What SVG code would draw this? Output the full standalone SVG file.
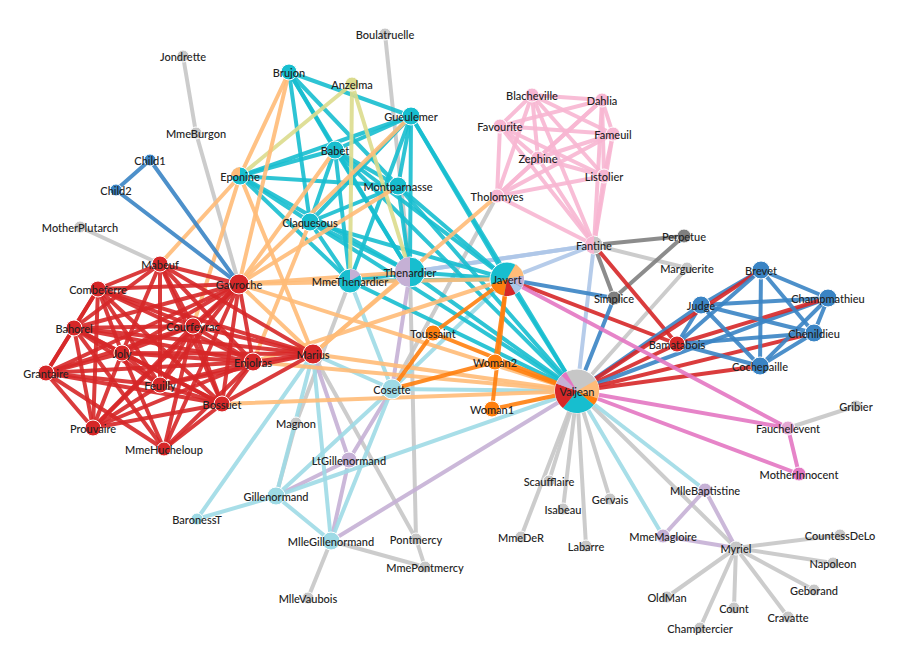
<svg xmlns="http://www.w3.org/2000/svg" width="900" height="657" viewBox="0 0 900 657">
<style>
line{stroke-width:4;stroke-opacity:0.9;stroke-linecap:round}
.g{stroke:#c7c7c7}.lv{stroke:#c5b0d5}.lb{stroke:#9edae5}.fb{stroke:#aec7e8}.p{stroke:#f7b6d2}.t{stroke:#17becf}.r{stroke:#d62728}.b{stroke:#3a84c4}.dg{stroke:#7f7f7f}.o{stroke:#ff7f0e}.m{stroke:#e377c2}.pe{stroke:#ffbb78}.y{stroke:#dbdb8d}
circle{stroke:#fff;stroke-width:1}
.G{fill:#c7c7c7}.LV{fill:#c5b0d5}.LB{fill:#9edae5}.FB{fill:#c2d2ea}.P{fill:#f7b6d2}.T{fill:#17becf}.R{fill:#d62728}.B{fill:#3a84c4}.DG{fill:#7f7f7f}.O{fill:#ff7f0e}.M{fill:#e377c2}.PE{fill:#ffbb78}.Y{fill:#dbdb8d}.AB{fill:#aec7e8}
text{font-family:Lato,"Open Sans","DejaVu Sans",sans-serif;font-size:11px;font-weight:500;fill:#222;text-anchor:middle;dominant-baseline:central}
</style>
<rect width="900" height="657" fill="#fff"/>
<g id="links">
<line class="g" x1="736" y1="548" x2="833" y2="563"/><line class="g" x1="736" y1="548" x2="840" y2="535"/><line class="g" x1="736" y1="548" x2="814" y2="590"/><line class="g" x1="736" y1="548" x2="700" y2="628"/><line class="g" x1="736" y1="548" x2="788" y2="617"/><line class="g" x1="736" y1="548" x2="734" y2="608"/><line class="g" x1="736" y1="548" x2="667" y2="597"/>
<line class="g" x1="577" y1="391" x2="586" y2="546"/><line class="g" x1="577" y1="391" x2="736" y2="548"/><line class="g" x1="577" y1="391" x2="687" y2="268"/><line class="g" x1="577" y1="391" x2="521" y2="537"/><line class="g" x1="577" y1="391" x2="563" y2="509"/><line class="g" x1="577" y1="391" x2="610" y2="499"/><line class="g" x1="577" y1="391" x2="549" y2="481"/>
<line class="g" x1="594" y1="245" x2="687" y2="268"/><line class="g" x1="410" y1="272" x2="416" y2="539"/><line class="g" x1="410" y1="272" x2="385" y2="34"/><line class="g" x1="788" y1="428" x2="856" y2="406"/><line class="g" x1="196" y1="133" x2="183" y2="56"/><line class="g" x1="239" y1="284" x2="196" y2="133"/><line class="g" x1="296" y1="423" x2="276" y2="496"/><line class="g" x1="296" y1="423" x2="350" y2="281"/><line class="g" x1="425" y1="567" x2="331" y2="541"/><line class="g" x1="425" y1="567" x2="416" y2="539"/><line class="g" x1="308" y1="598" x2="331" y2="541"/><line class="g" x1="313" y1="354" x2="416" y2="539"/><line class="g" x1="80" y1="227" x2="160" y2="264"/><line class="g" x1="497" y1="196" x2="392" y2="389"/>
<line class="dg" x1="684" y1="236" x2="594" y2="245"/><line class="dg" x1="614" y1="298" x2="684" y2="236"/><line class="dg" x1="614" y1="298" x2="594" y2="245"/>
<line class="p" x1="604" y1="176" x2="497" y2="196"/><line class="p" x1="613" y1="134" x2="497" y2="196"/><line class="p" x1="613" y1="134" x2="604" y2="176"/><line class="p" x1="532" y1="95" x2="497" y2="196"/><line class="p" x1="532" y1="95" x2="604" y2="176"/><line class="p" x1="532" y1="95" x2="613" y2="134"/><line class="p" x1="500" y1="126" x2="497" y2="196"/><line class="p" x1="500" y1="126" x2="604" y2="176"/><line class="p" x1="500" y1="126" x2="613" y2="134"/><line class="p" x1="500" y1="126" x2="532" y2="95"/><line class="p" x1="602" y1="100" x2="497" y2="196"/><line class="p" x1="602" y1="100" x2="604" y2="176"/><line class="p" x1="602" y1="100" x2="613" y2="134"/><line class="p" x1="602" y1="100" x2="532" y2="95"/><line class="p" x1="602" y1="100" x2="500" y2="126"/><line class="p" x1="538" y1="158" x2="497" y2="196"/><line class="p" x1="538" y1="158" x2="604" y2="176"/><line class="p" x1="538" y1="158" x2="613" y2="134"/><line class="p" x1="538" y1="158" x2="532" y2="95"/><line class="p" x1="538" y1="158" x2="500" y2="126"/><line class="p" x1="538" y1="158" x2="602" y2="100"/><line class="p" x1="594" y1="245" x2="497" y2="196"/><line class="p" x1="594" y1="245" x2="604" y2="176"/><line class="p" x1="594" y1="245" x2="613" y2="134"/><line class="p" x1="594" y1="245" x2="532" y2="95"/><line class="p" x1="594" y1="245" x2="500" y2="126"/><line class="p" x1="594" y1="245" x2="602" y2="100"/><line class="p" x1="594" y1="245" x2="538" y2="158"/>
<line class="fb" x1="594" y1="245" x2="577" y2="391"/><line class="fb" x1="350" y1="281" x2="594" y2="245"/><line class="fb" x1="410" y1="272" x2="594" y2="245"/><line class="fb" x1="507" y1="279" x2="594" y2="245"/>
<line class="lv" x1="705" y1="490" x2="736" y2="548"/><line class="lv" x1="663" y1="536" x2="736" y2="548"/><line class="lv" x1="663" y1="536" x2="705" y2="490"/><line class="lv" x1="349" y1="460" x2="331" y2="541"/><line class="lv" x1="349" y1="460" x2="276" y2="496"/><line class="lv" x1="349" y1="460" x2="392" y2="389"/><line class="lv" x1="313" y1="354" x2="349" y2="460"/><line class="lv" x1="392" y1="389" x2="410" y2="272"/><line class="lv" x1="331" y1="541" x2="577" y2="391"/>
<line class="lb" x1="577" y1="391" x2="663" y2="536"/><line class="lb" x1="577" y1="391" x2="705" y2="490"/><line class="lb" x1="392" y1="389" x2="577" y2="391"/><line class="lb" x1="276" y1="496" x2="392" y2="389"/><line class="lb" x1="276" y1="496" x2="577" y2="391"/><line class="lb" x1="331" y1="541" x2="276" y2="496"/><line class="lb" x1="331" y1="541" x2="392" y2="389"/><line class="lb" x1="197" y1="519" x2="276" y2="496"/><line class="lb" x1="197" y1="519" x2="313" y2="354"/><line class="lb" x1="313" y1="354" x2="276" y2="496"/><line class="lb" x1="313" y1="354" x2="331" y2="541"/><line class="lb" x1="392" y1="389" x2="350" y2="281"/><line class="lb" x1="313" y1="354" x2="392" y2="389"/><line class="lb" x1="392" y1="389" x2="507" y2="279"/>
<line class="t" x1="410" y1="272" x2="350" y2="281"/><line class="t" x1="410" y1="272" x2="577" y2="391"/><line class="t" x1="350" y1="281" x2="577" y2="391"/><line class="t" x1="507" y1="279" x2="577" y2="391"/><line class="t" x1="507" y1="279" x2="410" y2="272"/><line class="t" x1="507" y1="279" x2="350" y2="281"/><line class="t" x1="240" y1="176" x2="350" y2="281"/><line class="t" x1="240" y1="176" x2="410" y2="272"/>
<line class="t" x1="411" y1="116" x2="410" y2="272"/><line class="t" x1="411" y1="116" x2="577" y2="391"/><line class="t" x1="411" y1="116" x2="350" y2="281"/><line class="t" x1="411" y1="116" x2="507" y2="279"/><line class="t" x1="411" y1="116" x2="240" y2="176"/>
<line class="t" x1="335" y1="150" x2="410" y2="272"/><line class="t" x1="335" y1="150" x2="411" y2="116"/><line class="t" x1="335" y1="150" x2="577" y2="391"/><line class="t" x1="335" y1="150" x2="350" y2="281"/><line class="t" x1="335" y1="150" x2="507" y2="279"/><line class="t" x1="335" y1="150" x2="240" y2="176"/>
<line class="t" x1="310" y1="222" x2="410" y2="272"/><line class="t" x1="310" y1="222" x2="335" y2="150"/><line class="t" x1="310" y1="222" x2="411" y2="116"/><line class="t" x1="310" y1="222" x2="577" y2="391"/><line class="t" x1="310" y1="222" x2="350" y2="281"/><line class="t" x1="310" y1="222" x2="507" y2="279"/><line class="t" x1="310" y1="222" x2="240" y2="176"/>
<line class="t" x1="398" y1="186" x2="507" y2="279"/><line class="t" x1="398" y1="186" x2="335" y2="150"/><line class="t" x1="398" y1="186" x2="411" y2="116"/><line class="t" x1="398" y1="186" x2="310" y2="222"/><line class="t" x1="398" y1="186" x2="577" y2="391"/><line class="t" x1="398" y1="186" x2="240" y2="176"/><line class="t" x1="398" y1="186" x2="410" y2="272"/>
<line class="t" x1="289" y1="72" x2="335" y2="150"/><line class="t" x1="289" y1="72" x2="411" y2="116"/><line class="t" x1="289" y1="72" x2="410" y2="272"/><line class="t" x1="289" y1="72" x2="310" y2="222"/><line class="t" x1="289" y1="72" x2="398" y2="186"/>
<line class="y" x1="352" y1="84" x2="240" y2="176"/><line class="y" x1="352" y1="84" x2="410" y2="272"/><line class="y" x1="352" y1="84" x2="350" y2="281"/>
<line class="pe" x1="313" y1="354" x2="240" y2="176"/><line class="pe" x1="160" y1="264" x2="240" y2="176"/><line class="pe" x1="193" y1="326" x2="240" y2="176"/><line class="pe" x1="313" y1="354" x2="239" y2="284"/><line class="pe" x1="313" y1="354" x2="497" y2="196"/><line class="pe" x1="313" y1="354" x2="410" y2="272"/><line class="pe" x1="313" y1="354" x2="577" y2="391"/><line class="pe" x1="239" y1="284" x2="410" y2="272"/><line class="pe" x1="239" y1="284" x2="507" y2="279"/><line class="pe" x1="239" y1="284" x2="577" y2="391"/><line class="pe" x1="253" y1="362" x2="507" y2="279"/><line class="pe" x1="253" y1="362" x2="577" y2="391"/><line class="pe" x1="222" y1="404" x2="577" y2="391"/><line class="pe" x1="310" y1="222" x2="253" y2="362"/><line class="pe" x1="289" y1="72" x2="239" y2="284"/><line class="pe" x1="289" y1="72" x2="240" y2="176"/><line class="pe" x1="411" y1="116" x2="239" y2="284"/><line class="pe" x1="335" y1="150" x2="239" y2="284"/><line class="pe" x1="398" y1="186" x2="239" y2="284"/>
<line class="r" x1="677" y1="344" x2="594" y2="245"/><line class="r" x1="677" y1="344" x2="507" y2="279"/><line class="r" x1="677" y1="344" x2="577" y2="391"/>
<line class="r" x1="160" y1="264" x2="313" y2="354"/><line class="r" x1="160" y1="264" x2="239" y2="284"/><line class="r" x1="253" y1="362" x2="313" y2="354"/><line class="r" x1="253" y1="362" x2="239" y2="284"/><line class="r" x1="253" y1="362" x2="160" y2="264"/>
<line class="r" x1="98" y1="289" x2="253" y2="362"/><line class="r" x1="98" y1="289" x2="313" y2="354"/><line class="r" x1="98" y1="289" x2="239" y2="284"/><line class="r" x1="98" y1="289" x2="160" y2="264"/>
<line class="r" x1="93" y1="428" x2="239" y2="284"/><line class="r" x1="93" y1="428" x2="253" y2="362"/><line class="r" x1="93" y1="428" x2="98" y2="289"/>
<line class="r" x1="160" y1="385" x2="239" y2="284"/><line class="r" x1="160" y1="385" x2="253" y2="362"/><line class="r" x1="160" y1="385" x2="93" y2="428"/><line class="r" x1="160" y1="385" x2="98" y2="289"/><line class="r" x1="160" y1="385" x2="160" y2="264"/><line class="r" x1="160" y1="385" x2="313" y2="354"/>
<line class="r" x1="193" y1="326" x2="313" y2="354"/><line class="r" x1="193" y1="326" x2="253" y2="362"/><line class="r" x1="193" y1="326" x2="98" y2="289"/><line class="r" x1="193" y1="326" x2="239" y2="284"/><line class="r" x1="193" y1="326" x2="160" y2="264"/><line class="r" x1="193" y1="326" x2="160" y2="385"/><line class="r" x1="193" y1="326" x2="93" y2="428"/>
<line class="r" x1="74" y1="328" x2="98" y2="289"/><line class="r" x1="74" y1="328" x2="239" y2="284"/><line class="r" x1="74" y1="328" x2="193" y2="326"/><line class="r" x1="74" y1="328" x2="160" y2="264"/><line class="r" x1="74" y1="328" x2="253" y2="362"/><line class="r" x1="74" y1="328" x2="160" y2="385"/><line class="r" x1="74" y1="328" x2="93" y2="428"/><line class="r" x1="74" y1="328" x2="313" y2="354"/>
<line class="r" x1="222" y1="404" x2="313" y2="354"/><line class="r" x1="222" y1="404" x2="193" y2="326"/><line class="r" x1="222" y1="404" x2="239" y2="284"/><line class="r" x1="222" y1="404" x2="74" y2="328"/><line class="r" x1="222" y1="404" x2="253" y2="362"/><line class="r" x1="222" y1="404" x2="160" y2="385"/><line class="r" x1="222" y1="404" x2="93" y2="428"/><line class="r" x1="222" y1="404" x2="98" y2="289"/><line class="r" x1="222" y1="404" x2="160" y2="264"/>
<line class="r" x1="122" y1="353" x2="74" y2="328"/><line class="r" x1="122" y1="353" x2="222" y2="404"/><line class="r" x1="122" y1="353" x2="239" y2="284"/><line class="r" x1="122" y1="353" x2="193" y2="326"/><line class="r" x1="122" y1="353" x2="253" y2="362"/><line class="r" x1="122" y1="353" x2="160" y2="385"/><line class="r" x1="122" y1="353" x2="93" y2="428"/><line class="r" x1="122" y1="353" x2="98" y2="289"/><line class="r" x1="122" y1="353" x2="160" y2="264"/><line class="r" x1="122" y1="353" x2="313" y2="354"/>
<line class="r" x1="46" y1="373" x2="222" y2="404"/><line class="r" x1="46" y1="373" x2="253" y2="362"/><line class="r" x1="46" y1="373" x2="98" y2="289"/><line class="r" x1="46" y1="373" x2="193" y2="326"/><line class="r" x1="46" y1="373" x2="122" y2="353"/><line class="r" x1="46" y1="373" x2="239" y2="284"/><line class="r" x1="46" y1="373" x2="74" y2="328"/><line class="r" x1="46" y1="373" x2="160" y2="385"/><line class="r" x1="46" y1="373" x2="93" y2="428"/>
<line class="r" x1="164" y1="449" x2="222" y2="404"/><line class="r" x1="164" y1="449" x2="122" y2="353"/><line class="r" x1="164" y1="449" x2="46" y2="373"/><line class="r" x1="164" y1="449" x2="74" y2="328"/><line class="r" x1="164" y1="449" x2="193" y2="326"/><line class="r" x1="164" y1="449" x2="239" y2="284"/><line class="r" x1="164" y1="449" x2="253" y2="362"/>
<line class="b" x1="150" y1="160" x2="239" y2="284"/><line class="b" x1="116" y1="190" x2="239" y2="284"/><line class="b" x1="116" y1="190" x2="150" y2="160"/>
<line class="b" x1="614" y1="298" x2="577" y2="391"/><line class="b" x1="614" y1="298" x2="507" y2="279"/>
<line class="b" x1="701" y1="305" x2="577" y2="391"/><line class="b" x1="701" y1="305" x2="677" y2="344"/><line class="b" x1="828" y1="298" x2="577" y2="391"/><line class="b" x1="828" y1="298" x2="701" y2="305"/><line class="r" x1="828" y1="298" x2="677" y2="344"/><line class="b" x1="761" y1="270" x2="701" y2="305"/><line class="b" x1="761" y1="270" x2="828" y2="298"/><line class="r" x1="761" y1="270" x2="577" y2="391"/><line class="b" x1="761" y1="270" x2="677" y2="344"/><line class="b" x1="814" y1="333" x2="701" y2="305"/><line class="b" x1="814" y1="333" x2="828" y2="298"/><line class="b" x1="814" y1="333" x2="761" y2="270"/><line class="r" x1="814" y1="333" x2="577" y2="391"/><line class="b" x1="814" y1="333" x2="677" y2="344"/><line class="b" x1="760" y1="366" x2="701" y2="305"/><line class="b" x1="760" y1="366" x2="828" y2="298"/><line class="b" x1="760" y1="366" x2="761" y2="270"/><line class="b" x1="760" y1="366" x2="814" y2="333"/><line class="r" x1="760" y1="366" x2="577" y2="391"/><line class="b" x1="760" y1="366" x2="677" y2="344"/>
<line class="m" x1="788" y1="428" x2="577" y2="391"/><line class="m" x1="788" y1="428" x2="507" y2="279"/><line class="m" x1="799" y1="474" x2="788" y2="428"/><line class="m" x1="799" y1="474" x2="577" y2="391"/>
<line class="o" x1="492" y1="409" x2="577" y2="391"/><line class="o" x1="492" y1="409" x2="507" y2="279"/><line class="o" x1="495" y1="362" x2="577" y2="391"/><line class="o" x1="495" y1="362" x2="392" y2="389"/><line class="o" x1="495" y1="362" x2="507" y2="279"/><line class="o" x1="433" y1="333" x2="392" y2="389"/><line class="o" x1="433" y1="333" x2="507" y2="279"/><line class="o" x1="433" y1="333" x2="577" y2="391"/>
</g>
<g id="nodes">
<g id="n-Myriel"><circle class="G" cx="736" cy="548" r="7"/><text x="736" y="548">Myriel</text></g>
<g id="n-Napoleon"><circle class="G" cx="833" cy="563" r="6"/><text x="833" y="563">Napoleon</text></g>
<g id="n-MlleBaptistine"><circle class="LV" cx="705" cy="490" r="7"/><text x="705" y="490">MlleBaptistine</text></g>
<g id="n-MmeMagloire"><circle class="LV" cx="663" cy="536" r="7"/><text x="663" y="536">MmeMagloire</text></g>
<g id="n-CountessDeLo"><circle class="G" cx="840" cy="535" r="6"/><text x="840" y="535">CountessDeLo</text></g>
<g id="n-Geborand"><circle class="G" cx="814" cy="590" r="6"/><text x="814" y="590">Geborand</text></g>
<g id="n-Champtercier"><circle class="G" cx="700" cy="628" r="6"/><text x="700" y="628">Champtercier</text></g>
<g id="n-Cravatte"><circle class="G" cx="788" cy="617" r="6"/><text x="788" y="617">Cravatte</text></g>
<g id="n-Count"><circle class="G" cx="734" cy="608" r="6"/><text x="734" y="608">Count</text></g>
<g id="n-OldMan"><circle class="G" cx="667" cy="597" r="6"/><text x="667" y="597">OldMan</text></g>
<g id="n-Labarre"><circle class="G" cx="586" cy="546" r="6"/><text x="586" y="546">Labarre</text></g>
<g id="n-Marguerite"><circle class="G" cx="687" cy="268" r="6"/><text x="687" y="268">Marguerite</text></g>
<g id="n-MmeDeR"><circle class="G" cx="521" cy="537" r="6"/><text x="521" y="537">MmeDeR</text></g>
<g id="n-Isabeau"><circle class="G" cx="563" cy="509" r="6"/><text x="563" y="509">Isabeau</text></g>
<g id="n-Gervais"><circle class="G" cx="610" cy="499" r="6"/><text x="610" y="499">Gervais</text></g>
<g id="n-Tholomyes"><circle class="P" cx="497" cy="196" r="7"/><text x="497" y="196">Tholomyes</text></g>
<g id="n-Listolier"><circle class="P" cx="604" cy="176" r="7"/><text x="604" y="176">Listolier</text></g>
<g id="n-Fameuil"><circle class="P" cx="613" cy="134" r="7"/><text x="613" y="134">Fameuil</text></g>
<g id="n-Blacheville"><circle class="P" cx="532" cy="95" r="7"/><text x="532" y="95">Blacheville</text></g>
<g id="n-Favourite"><circle class="P" cx="500" cy="126" r="7"/><text x="500" y="126">Favourite</text></g>
<g id="n-Dahlia"><circle class="P" cx="602" cy="100" r="7"/><text x="602" y="100">Dahlia</text></g>
<g id="n-Zephine"><circle class="P" cx="538" cy="158" r="7"/><text x="538" y="158">Zephine</text></g>
<g id="n-Fantine"><circle class="G" cx="594" cy="245" r="9"/><path class="P" d="M594,245 L594,254 A9,9 0 0 1 594,236 Z"/><text x="594" y="245">Fantine</text></g>
<g id="n-MmeThenardier"><circle class="T" cx="350" cy="281" r="12"/><path class="LV" d="M350,281 L350,269 A12,12 0 0 1 360.4,275 Z"/><text x="350" y="281">MmeThenardier</text></g>
<g id="n-Thenardier"><circle class="T" cx="410" cy="272" r="15"/><path class="LV" d="M410,272 L410,287 A15,15 0 0 1 410,257 Z"/><text x="410" y="272">Thenardier</text></g>
<g id="n-Cosette"><circle class="LB" cx="392" cy="389" r="10"/><text x="392" y="389">Cosette</text></g>
<g id="n-Javert"><circle class="T" cx="507" cy="279" r="17"/><path class="PE" d="M507,279 L515.5,264.3 A17,17 0 0 1 523.7,276 Z"/><path class="LV" d="M507,279 L523.7,276 A17,17 0 0 1 521.7,287.5 Z"/><path class="AB" d="M507,279 L521.7,287.5 A17,17 0 0 1 515.5,293.7 Z"/><path class="R" d="M507,279 L515.5,293.7 A17,17 0 0 1 504,295.7 Z"/><path class="O" d="M507,279 L504,295.7 A17,17 0 0 1 491,284.8 Z"/><text x="507" y="279">Javert</text></g>
<g id="n-Fauchelevent"><circle class="M" cx="788" cy="428" r="7" style="fill:#e3a8d3"/><text x="788" y="428">Fauchelevent</text></g>
<g id="n-Bamatabois"><circle class="R" cx="677" cy="344" r="8"/><text x="677" y="344">Bamatabois</text></g>
<g id="n-Perpetue"><circle class="DG" cx="684" cy="236" r="7"/><text x="684" y="236">Perpetue</text></g>
<g id="n-Simplice"><circle class="DG" cx="614" cy="298" r="7"/><text x="614" y="298">Simplice</text></g>
<g id="n-Scaufflaire"><circle class="G" cx="549" cy="481" r="6"/><text x="549" y="481">Scaufflaire</text></g>
<g id="n-Woman1"><circle class="O" cx="492" cy="409" r="8"/><text x="492" y="409">Woman1</text></g>
<g id="n-Judge"><circle class="B" cx="701" cy="305" r="9"/><text x="701" y="305">Judge</text></g>
<g id="n-Champmathieu"><circle class="B" cx="828" cy="298" r="9"/><text x="828" y="298">Champmathieu</text></g>
<g id="n-Brevet"><circle class="B" cx="761" cy="270" r="9"/><text x="761" y="270">Brevet</text></g>
<g id="n-Chenildieu"><circle class="B" cx="814" cy="333" r="9"/><text x="814" y="333">Chenildieu</text></g>
<g id="n-Cochepaille"><circle class="B" cx="760" cy="366" r="9"/><text x="760" y="366">Cochepaille</text></g>
<g id="n-Pontmercy"><circle class="G" cx="416" cy="539" r="6"/><text x="416" y="539">Pontmercy</text></g>
<g id="n-Boulatruelle"><circle class="G" cx="385" cy="34" r="6"/><text x="385" y="34">Boulatruelle</text></g>
<g id="n-Eponine"><circle class="T" cx="240" cy="176" r="9"/><path class="PE" d="M240,176 L240,167 A9,9 0 0 0 231,176 Z"/><text x="240" y="176">Eponine</text></g>
<g id="n-Anzelma"><circle class="Y" cx="352" cy="84" r="7"/><text x="352" y="84">Anzelma</text></g>
<g id="n-Woman2"><circle class="O" cx="495" cy="362" r="8"/><text x="495" y="362">Woman2</text></g>
<g id="n-MotherInnocent"><circle class="M" cx="799" cy="474" r="7"/><text x="799" y="474">MotherInnocent</text></g>
<g id="n-Gribier"><circle class="G" cx="856" cy="406" r="6"/><text x="856" y="406">Gribier</text></g>
<g id="n-Jondrette"><circle class="G" cx="183" cy="56" r="6"/><text x="183" y="56">Jondrette</text></g>
<g id="n-MmeBurgon"><circle class="G" cx="196" cy="133" r="6"/><text x="196" y="133">MmeBurgon</text></g>
<g id="n-Gavroche"><circle class="R" cx="239" cy="284" r="10"/><text x="239" y="284">Gavroche</text></g>
<g id="n-Gillenormand"><circle class="LB" cx="276" cy="496" r="9"/><text x="276" y="496">Gillenormand</text></g>
<g id="n-Magnon"><circle class="G" cx="296" cy="423" r="6"/><text x="296" y="423">Magnon</text></g>
<g id="n-MlleGillenormand"><circle class="LB" cx="331" cy="541" r="9"/><text x="331" y="541">MlleGillenormand</text></g>
<g id="n-MmePontmercy"><circle class="G" cx="425" cy="567" r="6"/><text x="425" y="567">MmePontmercy</text></g>
<g id="n-MlleVaubois"><circle class="G" cx="308" cy="598" r="6"/><text x="308" y="598">MlleVaubois</text></g>
<g id="n-LtGillenormand"><circle class="LV" cx="349" cy="460" r="8"/><text x="349" y="460">LtGillenormand</text></g>
<g id="n-Marius"><circle class="R" cx="313" cy="354" r="10"/><text x="313" y="354">Marius</text></g>
<g id="n-BaronessT"><circle class="LB" cx="197" cy="519" r="6"/><text x="197" y="519">BaronessT</text></g>
<g id="n-Mabeuf"><circle class="R" cx="160" cy="264" r="8"/><text x="160" y="264">Mabeuf</text></g>
<g id="n-Enjolras"><circle class="R" cx="253" cy="362" r="9"/><text x="253" y="362">Enjolras</text></g>
<g id="n-Combeferre"><circle class="R" cx="98" cy="289" r="8"/><text x="98" y="289">Combeferre</text></g>
<g id="n-Prouvaire"><circle class="R" cx="93" cy="428" r="8"/><text x="93" y="428">Prouvaire</text></g>
<g id="n-Feuilly"><circle class="R" cx="160" cy="385" r="8"/><text x="160" y="385">Feuilly</text></g>
<g id="n-Courfeyrac"><circle class="R" cx="193" cy="326" r="8"/><text x="193" y="326">Courfeyrac</text></g>
<g id="n-Bahorel"><circle class="R" cx="74" cy="328" r="8"/><text x="74" y="328">Bahorel</text></g>
<g id="n-Bossuet"><circle class="R" cx="222" cy="404" r="8"/><text x="222" y="404">Bossuet</text></g>
<g id="n-Joly"><circle class="R" cx="122" cy="353" r="8"/><text x="122" y="353">Joly</text></g>
<g id="n-Grantaire"><circle class="R" cx="46" cy="373" r="8"/><text x="46" y="373">Grantaire</text></g>
<g id="n-MotherPlutarch"><circle class="G" cx="80" cy="227" r="6"/><text x="80" y="227">MotherPlutarch</text></g>
<g id="n-Gueulemer"><circle class="T" cx="411" cy="116" r="9"/><text x="411" y="116">Gueulemer</text></g>
<g id="n-Babet"><circle class="T" cx="335" cy="150" r="9"/><text x="335" y="150">Babet</text></g>
<g id="n-Claquesous"><circle class="T" cx="310" cy="222" r="9"/><text x="310" y="222">Claquesous</text></g>
<g id="n-Montparnasse"><circle class="T" cx="398" cy="186" r="9"/><text x="398" y="186">Montparnasse</text></g>
<g id="n-Toussaint"><circle class="O" cx="433" cy="333" r="8"/><text x="433" y="333">Toussaint</text></g>
<g id="n-Child1"><circle class="B" cx="150" cy="160" r="6"/><text x="150" y="160">Child1</text></g>
<g id="n-Child2"><circle class="B" cx="116" cy="190" r="6"/><text x="116" y="190">Child2</text></g>
<g id="n-Brujon"><circle class="T" cx="289" cy="72" r="8"/><text x="289" y="72">Brujon</text></g>
<g id="n-MmeHucheloup"><circle class="R" cx="164" cy="449" r="7"/><text x="164" y="449">MmeHucheloup</text></g>
<g id="n-Valjean"><circle class="G" cx="577" cy="391" r="22"/><path class="PE" d="M577,391 L596.1,380 A22,22 0 0 1 597.7,398.5 Z"/><path class="O" d="M577,391 L597.7,398.5 A22,22 0 0 1 593.9,405.1 Z"/><path class="T" d="M577,391 L593.9,405.1 A22,22 0 0 1 562.9,407.9 Z"/><path class="R" d="M577,391 L562.9,407.9 A22,22 0 0 1 556.3,383.5 Z"/><path class="LV" d="M577,391 L556.3,383.5 A22,22 0 0 1 561.4,375.4 Z"/><path class="M" d="M577,391 L561.4,375.4 A22,22 0 0 1 566,372 Z"/><text x="577" y="391">Valjean</text></g>
</g>
</svg>
